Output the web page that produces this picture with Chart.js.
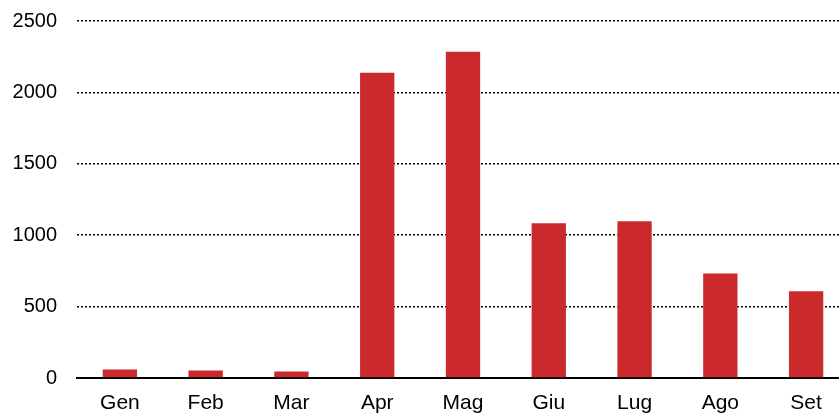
<!DOCTYPE html>
<html>
<head>
<meta charset="utf-8">
<script src="https://cdn.jsdelivr.net/npm/chart.js@4/dist/chart.umd.min.js"></script>
<style>
  html, body { margin: 0; padding: 0; overflow: hidden; background: #fff; width: 839px; height: 415px; }
  #wrap { position: absolute; left: 0; top: 0; width: 849px; height: 415px; }
</style>
</head>
<body>
<div id="wrap"><canvas id="c" width="849" height="415"></canvas></div>
<script>
const categories = ["Gen", "Feb", "Mar", "Apr", "Mag", "Giu", "Lug", "Ago", "Set"];
const values = [60, 53, 46, 2137, 2285, 1083, 1097, 731, 607];
const yTicks = [0, 500, 1000, 1500, 2000, 2500];

new Chart(document.getElementById('c'), {
  type: 'bar',
  data: {
    labels: categories,
    datasets: [{
      data: values,
      backgroundColor: '#cb2a2d',
      borderWidth: 0,
      categoryPercentage: 0.4,
      barPercentage: 1.0
    }]
  },
  options: {
    responsive: false,
    animation: false,
    events: [],
    layout: { padding: { top: 21, right: 0, bottom: 0, left: 0 } },
    plugins: { legend: { display: false }, tooltip: { enabled: false } },
    scales: {
      x: {
        grid: { display: false, drawTicks: false },
        border: { display: true, color: '#000', width: 2 },
        ticks: { color: '#000', font: { family: 'Liberation Sans, Arial, sans-serif', size: 21 }, padding: 13, maxRotation: 0 },
        afterFit: s => { s.height = 37; s.paddingLeft = 0; s.paddingRight = 0; }
      },
      y: {
        min: yTicks[0],
        max: yTicks[yTicks.length - 1],
        afterBuildTicks: s => { s.ticks = yTicks.map(v => ({ value: v })); },
        grid: { color: '#000', lineWidth: 1.5, drawTicks: false },
        border: { display: false, dash: [2, 2] },
        ticks: { color: '#000', font: { family: 'Liberation Sans, Arial, sans-serif', size: 20 }, padding: 20, callback: v => String(v) },
        afterFit: s => { s.width = 77; s.paddingTop = 0; s.paddingBottom = 0; }
      }
    }
  }
});
</script>
</body>
</html>
